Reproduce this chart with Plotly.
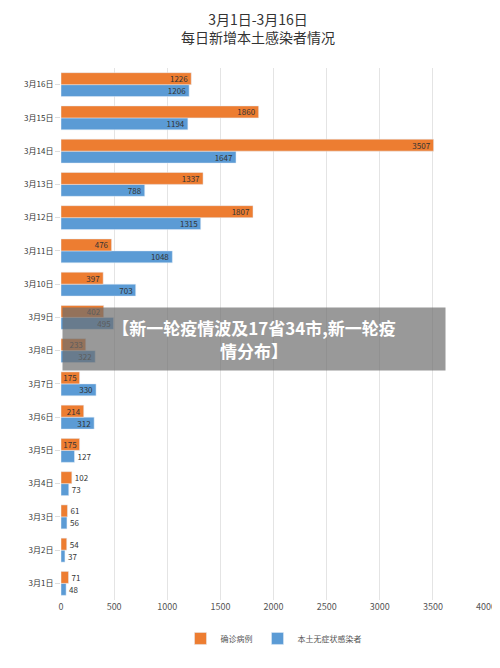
import plotly.graph_objs as go

days = ['3月%d日' % d for d in range(1, 17)]
confirmed = [71, 54, 61, 102, 175, 214, 175, 233, 402, 397, 476, 1807, 1337, 3507, 1860, 1226]
asymptomatic = [48, 37, 56, 73, 127, 312, 330, 322, 495, 703, 1048, 1315, 788, 1647, 1194, 1206]

font = 'Noto Sans CJK SC'
data = [
    go.Bar(y=days, x=asymptomatic, name='本土无症状感染者', orientation='h',
           marker_color='#5B9BD5', text=asymptomatic, textposition='auto',
           insidetextanchor='end', textfont=dict(size=8, color='#333'), legendrank=2),
    go.Bar(y=days, x=confirmed, name='确诊病例', orientation='h',
           marker_color='#ED7D31', text=confirmed, textposition='auto',
           insidetextanchor='end', textfont=dict(size=8, color='#333'), legendrank=1),
]

layout = go.Layout(
    width=500, height=668, paper_bgcolor='white', plot_bgcolor='white',
    font=dict(family=font, color='#444'),
    title=dict(text='3月1日-3月16日<br>每日新增本土感染者情况', x=0.5, y=0.975,
               font=dict(size=14, color='#333')),
    margin=dict(l=53, r=13, t=60, b=76),
    bargap=0.28, bargroupgap=0, uniformtext=dict(minsize=8, mode='show'),
    xaxis=dict(range=[0, 4000], dtick=500, showgrid=True, gridcolor='#e4e4e4',
               zeroline=False, tickfont=dict(size=9, color='#555')),
    yaxis=dict(showgrid=False, ticks='outside', ticklen=5, tickcolor='#ddd',
               automargin=False, tickfont=dict(size=8, color='#333')),
    legend=dict(orientation='h', x=0.5, xanchor='center', y=-0.045,
                font=dict(size=8, color='#555')),
    annotations=[dict(text='<b>【新一轮疫情波及17省34市,新一轮疫<br>情分布】</b>',
                      xref='paper', yref='paper', x=0.454, y=0.49, showarrow=False,
                      font=dict(size=17, color='white'), bgcolor='rgba(110,110,110,0.7)',
                      width=380, height=60, align='center')],
)

fig = go.Figure(data=data, layout=layout)
fig.write_html('out.html')
